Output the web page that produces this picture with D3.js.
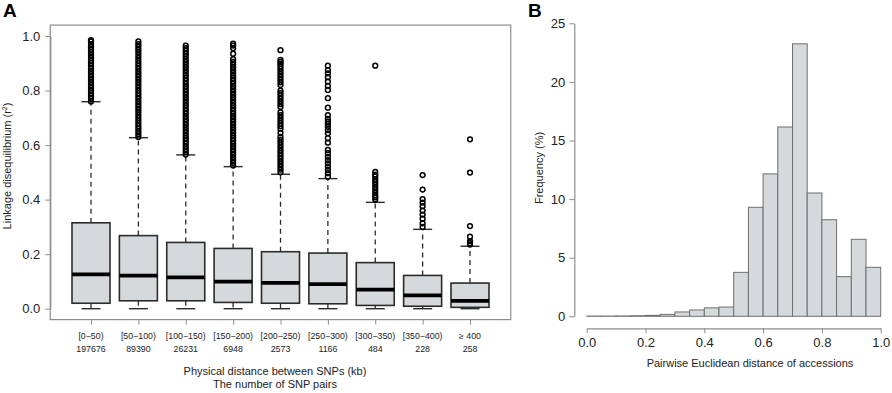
<!DOCTYPE html>
<html><head><meta charset="utf-8">
<script src="https://cdn.jsdelivr.net/npm/d3@7"></script>
<style>body{margin:0;background:#fff}svg{display:block;font-family:"Liberation Sans",Arial,sans-serif}</style>
</head><body><svg id="c" width="892" height="393"></svg>
<script>
// ---------- Panel A data ----------
const categories = ["[0\u221250)","[50\u2212100)","[100\u2212150)","[150\u2212200)","[200\u2212250)","[250\u2212300)","[300\u2212350)","[350\u2212400)","\u2265 400"];
const pairCounts = ["197676","89390","26231","6948","2573","1166","484","228","258"];
const q1 =       [0.020,0.029,0.029,0.023,0.020,0.018,0.012,0.009,0.005];
const medians =  [0.126,0.121,0.115,0.099,0.095,0.090,0.070,0.049,0.029];
const q3 =       [0.315,0.268,0.243,0.221,0.209,0.204,0.169,0.122,0.094];
const whiskLo =  [0,0,0,0,0,0,0,0,0];
const whiskHi =  [0.759,0.627,0.564,0.521,0.493,0.477,0.390,0.291,0.229];
const outliers = [
  [0.76,0.77,0.78,0.79,0.80,0.81,0.82,0.83,0.84,0.85,0.86,0.87,0.88,0.89,0.90,0.91,0.92,0.93,0.94,0.95,0.96,0.97,0.98,0.985],
  [0.63,0.64,0.65,0.66,0.67,0.68,0.69,0.70,0.71,0.72,0.73,0.74,0.75,0.76,0.77,0.78,0.79,0.80,0.81,0.82,0.83,0.84,0.85,0.86,0.87,0.88,0.89,0.90,0.91,0.92,0.93,0.94,0.95,0.96,0.97,0.98],
  [0.565,0.575,0.585,0.595,0.605,0.615,0.625,0.635,0.645,0.655,0.665,0.675,0.685,0.695,0.705,0.715,0.725,0.735,0.745,0.755,0.765,0.775,0.785,0.795,0.805,0.815,0.825,0.835,0.845,0.855,0.865,0.875,0.885,0.895,0.905,0.915,0.925,0.935,0.945,0.955,0.965],
  [0.525,0.535,0.545,0.555,0.565,0.575,0.585,0.595,0.605,0.615,0.625,0.635,0.645,0.655,0.665,0.675,0.685,0.695,0.705,0.715,0.725,0.735,0.745,0.755,0.765,0.775,0.785,0.795,0.805,0.815,0.825,0.835,0.845,0.855,0.865,0.875,0.885,0.895,0.905,0.915,0.935,0.955,0.965,0.972],
  [0.50,0.51,0.52,0.53,0.54,0.55,0.56,0.57,0.58,0.59,0.60,0.61,0.62,0.63,0.645,0.66,0.67,0.68,0.69,0.70,0.71,0.72,0.74,0.75,0.76,0.77,0.78,0.79,0.80,0.82,0.83,0.84,0.85,0.86,0.87,0.88,0.89,0.898,0.905,0.912,0.948],
  [0.484,0.497,0.509,0.521,0.533,0.545,0.557,0.570,0.582,0.609,0.625,0.643,0.655,0.667,0.677,0.686,0.696,0.710,0.737,0.772,0.802,0.817,0.833,0.849,0.863,0.875,0.891],
  [0.400,0.408,0.415,0.425,0.435,0.445,0.455,0.465,0.475,0.485,0.492,0.502,0.891],
  [0.300,0.313,0.330,0.345,0.360,0.376,0.389,0.402,0.437,0.490],
  [0.235,0.240,0.248,0.264,0.303,0.499,0.621]
];
const yTicksA = [0,0.2,0.4,0.6,0.8,1.0];

// ---------- Panel B data ----------
const binLower = [0,0.05,0.10,0.15,0.20,0.25,0.30,0.35,0.40,0.45,0.50,0.55,0.60,0.65,0.70,0.75,0.80,0.85,0.90,0.95];
const binWidth = 0.05;
const freq =     [0.02,0.02,0.03,0.05,0.08,0.16,0.37,0.54,0.72,0.79,3.75,9.3,12.15,16.15,23.25,10.52,8.24,3.38,6.57,4.18];
const yTicksB = [0,5,10,15,20,25];
const xTicksB = [0,0.2,0.4,0.6,0.8,1.0];

const svg = d3.select("#c");
const ink = "#2b2b2b", frameCol = "#8c8c8c", fillCol = "#d6d9dc";

// ===== Panel A =====
const xA = d3.scaleLinear().domain([1,9]).range([91,470]);
const yA = d3.scaleLinear().domain([0,1]).range([308.7,36]);
const fL = xA(0.14), fR = xA(9.86), fT = yA(1.04), fB = yA(-0.04);
const gA = svg.append("g");
gA.append("rect").attr("x",fL).attr("y",fT).attr("width",fR-fL).attr("height",fB-fT)
  .attr("fill","none").attr("stroke",frameCol).attr("stroke-width",1.2);
const yAxA = d3.axisLeft(yA).tickValues(yTicksA).tickFormat(d3.format(".1f")).tickSize(5).tickSizeOuter(0).tickPadding(5);
gA.append("g").attr("transform",`translate(${fL},0)`).call(yAxA)
  .call(g=>{g.select(".domain").attr("stroke",frameCol).attr("stroke-width",1.2);
    g.selectAll("line").attr("stroke",frameCol);
    g.selectAll("text").attr("font-size",13).attr("fill","#222").attr("font-family","Liberation Sans, Arial, sans-serif");});
const xAxA = d3.axisBottom(xA).tickValues(d3.range(1,10)).tickFormat("").tickSize(5).tickSizeOuter(0);
gA.append("g").attr("transform",`translate(0,${fB})`).call(xAxA)
  .call(g=>{g.select(".domain").remove(); g.selectAll("line").attr("stroke",frameCol);});
categories.forEach((c,i)=>{
  gA.append("text").attr("x",xA(i+1)).attr("y",339).attr("text-anchor","middle").attr("font-size",8.8).attr("fill","#222").text(c);
  gA.append("text").attr("x",xA(i+1)).attr("y",351.5).attr("text-anchor","middle").attr("font-size",8.8).attr("fill","#222").text(pairCounts[i]);
});
const bw = 38, cw = 19;
categories.forEach((c,i)=>{
  const cx = xA(i+1);
  const g = gA.append("g");
  g.append("line").attr("x1",cx).attr("x2",cx).attr("y1",yA(q3[i])).attr("y2",yA(whiskHi[i]))
    .attr("stroke",ink).attr("stroke-width",1.3).attr("stroke-dasharray","5,4");
  g.append("line").attr("x1",cx).attr("x2",cx).attr("y1",yA(q1[i])).attr("y2",yA(whiskLo[i]))
    .attr("stroke",ink).attr("stroke-width",1.3).attr("stroke-dasharray","5,4");
  [whiskHi[i],whiskLo[i]].forEach(v=>g.append("line").attr("x1",cx-cw/2).attr("x2",cx+cw/2)
    .attr("y1",yA(v)).attr("y2",yA(v)).attr("stroke",ink).attr("stroke-width",1.4));
  g.append("rect").attr("x",cx-bw/2).attr("width",bw).attr("y",yA(q3[i])).attr("height",yA(q1[i])-yA(q3[i]))
    .attr("fill",fillCol).attr("stroke",ink).attr("stroke-width",1.6);
  g.append("line").attr("x1",cx-bw/2).attr("x2",cx+bw/2).attr("y1",yA(medians[i])).attr("y2",yA(medians[i]))
    .attr("stroke","#000").attr("stroke-width",3.8);
  g.selectAll("circle").data(outliers[i]).join("circle").attr("cx",cx).attr("cy",d=>yA(d)).attr("r",2.4)
    .attr("fill","none").attr("stroke","#000").attr("stroke-width",1.5);
});
gA.append("text").attr("transform","translate(11,166) rotate(-90)").attr("text-anchor","middle").attr("font-size",11).attr("fill","#222")
  .text("Linkage disequilibrium (r").append("tspan").attr("font-size",7).attr("dy",-4).text("2")
  .select(function(){return this.parentNode;}).append("tspan").attr("dy",4).text(")");
gA.append("text").attr("x",275).attr("y",374.5).attr("text-anchor","middle").attr("font-size",11).attr("fill","#222").text("Physical distance between SNPs (kb)");
gA.append("text").attr("x",275).attr("y",387.5).attr("text-anchor","middle").attr("font-size",11).attr("fill","#222").text("The number of SNP pairs");
svg.append("text").attr("x",3).attr("y",17).attr("font-size",19).attr("font-weight","bold").text("A");

// ===== Panel B =====
const xB = d3.scaleLinear().domain([0,1]).range([586.7,880.7]);
const yB = d3.scaleLinear().domain([0,25]).range([316.3,23.3]);
const gB = svg.append("g");
gB.selectAll("rect").data(binLower).join("rect")
  .attr("x",d=>xB(d)).attr("width",d=>xB(d+binWidth)-xB(d))
  .attr("y",(d,i)=>yB(freq[i])).attr("height",(d,i)=>yB(0)-yB(freq[i]))
  .attr("fill",fillCol).attr("stroke","#6e6e6e").attr("stroke-width",1);
const yAxB = d3.axisLeft(yB).tickValues(yTicksB).tickFormat(d3.format("d")).tickSize(5).tickSizeOuter(0).tickPadding(4);
gB.append("g").attr("transform",`translate(574.3,0)`).call(yAxB)
  .call(g=>{g.select(".domain").attr("stroke",frameCol).attr("stroke-width",1.2);
    g.selectAll("line").attr("stroke",frameCol);
    g.selectAll("text").attr("font-size",13).attr("fill","#222").attr("font-family","Liberation Sans, Arial, sans-serif");});
const xAxB = d3.axisBottom(xB).tickValues(xTicksB).tickFormat(d3.format(".1f")).tickSize(5).tickSizeOuter(0).tickPadding(4);
gB.append("g").attr("transform",`translate(0,328.3)`).call(xAxB)
  .call(g=>{g.select(".domain").attr("stroke",frameCol).attr("stroke-width",1.2);
    g.selectAll("line").attr("stroke",frameCol);
    g.selectAll("text").attr("font-size",13).attr("fill","#222").attr("font-family","Liberation Sans, Arial, sans-serif");});
gB.append("text").attr("transform","translate(543,168) rotate(-90)").attr("text-anchor","middle").attr("font-size",11).attr("fill","#222").text("Frequency (%)");
gB.append("text").attr("x",750).attr("y",366.5).attr("text-anchor","middle").attr("font-size",11).attr("fill","#222").text("Pairwise Euclidean distance of accessions");
svg.append("text").attr("x",528).attr("y",17).attr("font-size",19).attr("font-weight","bold").text("B");
</script></body></html>
